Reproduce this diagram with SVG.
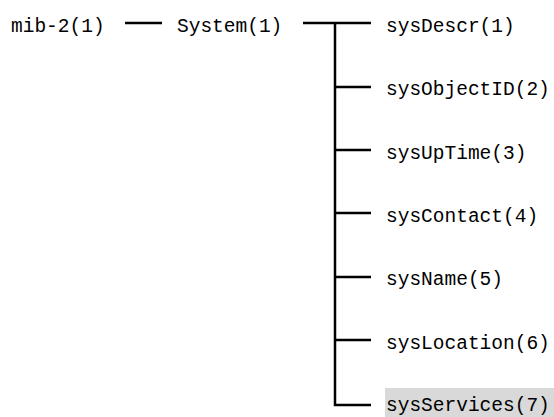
<svg xmlns="http://www.w3.org/2000/svg" width="554" height="417" viewBox="0 0 554 417">
<style>
text{font-family:"Liberation Mono","DejaVu Sans Mono",monospace;font-size:19.5px;fill:#000}
.c{stroke:#000;stroke-width:2.5;fill:none}
</style>
<rect width="554" height="417" fill="#fff"/>
<g id="connectors">
<line class="c" x1="125" y1="23" x2="162" y2="23"/>
<line class="c" x1="303" y1="23" x2="371" y2="23"/>
<polyline class="c" points="335,23 335,405 371,405"/>
<line class="c" x1="335" y1="87" x2="371" y2="87"/>
<line class="c" x1="335" y1="150" x2="371" y2="150"/>
<line class="c" x1="335" y1="213" x2="371" y2="213"/>
<line class="c" x1="335" y1="277" x2="371" y2="277"/>
<line class="c" x1="335" y1="340" x2="371" y2="340"/>
</g>
<g id="mib2"><text x="11" y="32">mib-2(1)</text></g>
<g id="system"><text x="177" y="32">System(1)</text></g>
<g id="sysDescr"><text x="386" y="32">sysDescr(1)</text></g>
<g id="sysObjectID"><text x="386" y="95">sysObjectID(2)</text></g>
<g id="sysUpTime"><text x="386" y="159">sysUpTime(3)</text></g>
<g id="sysContact"><text x="386" y="222">sysContact(4)</text></g>
<g id="sysName"><text x="386" y="285">sysName(5)</text></g>
<g id="sysLocation"><text x="386" y="349">sysLocation(6)</text></g>
<g id="sysServices"><rect x="385" y="388" width="169" height="29" fill="#d9d9d9"/><text x="386" y="411">sysServices(7)</text></g>
</svg>
